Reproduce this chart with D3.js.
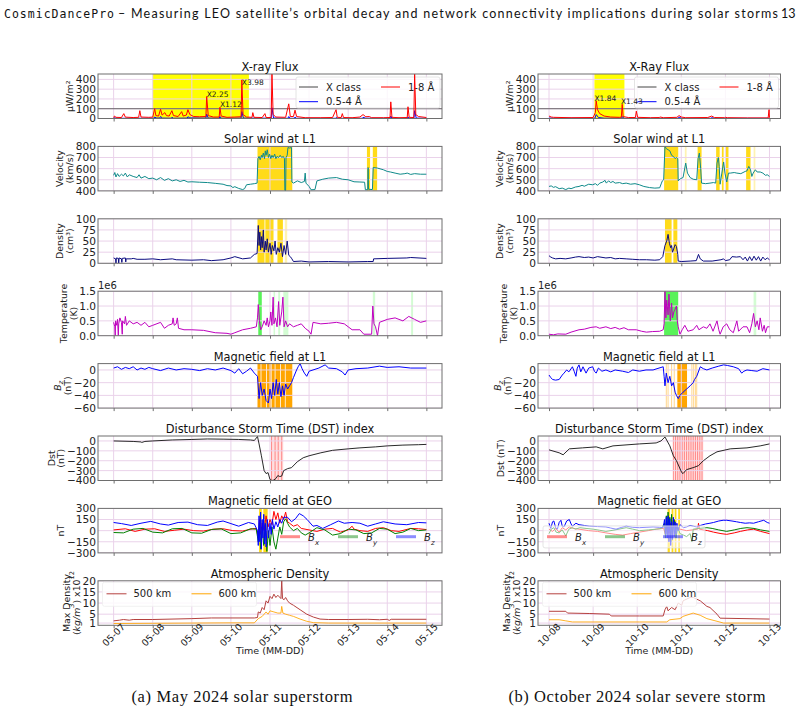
<!DOCTYPE html>
<html>
<head>
<meta charset="UTF-8">
<title>CosmicDancePro</title>
<style>
  body { margin: 0; background: #fff; }
</style>
</head>
<body>
<div id="chart"></div>
<script src="https://cdn.jsdelivr.net/npm/d3@7"></script>
<script>
// all times are days after the first tick (05-07 / 10-08, 00:00 UTC)

// ---------- May 2024 ----------
var mayTicks = [0, 1, 2, 3, 4, 5, 6, 7, 8];
var mayXrayLong = [[0,8],[0.02,25],[0.06,12],[0.2,10],[0.26,50],[0.3,14],[0.5,10],[0.64,12],[0.67,80],[0.7,15],[0.9,12],[1.0,14],[1.05,100],[1.08,30],[1.15,25],[1.2,95],[1.24,35],[1.31,60],[1.35,30],[1.42,25],[1.49,80],[1.53,30],[1.65,20],[1.74,70],[1.78,25],[1.86,35],[1.9,90],[1.95,40],[2.05,20],[2.2,18],[2.36,20],[2.38,225],[2.42,30],[2.55,15],[2.7,15],[2.72,115],[2.75,25],[2.9,12],[3.1,15],[3.26,18],[3.28,395],[3.31,40],[3.4,15],[3.54,12],[3.56,60],[3.59,12],[3.8,10],[3.87,50],[3.9,10],[4.03,10],[4.05,460],[4.08,40],[4.15,15],[4.4,12],[4.48,150],[4.52,20],[4.6,20],[4.64,85],[4.68,20],[4.9,8],[5.3,8],[5.6,10],[5.69,90],[5.72,12],[5.82,10],[5.85,50],[5.88,10],[6.1,8],[6.3,15],[6.38,40],[6.45,18],[6.54,20],[6.6,8],[6.9,8],[7.07,10],[7.09,170],[7.12,12],[7.3,8],[7.51,10],[7.53,120],[7.56,12],[7.68,10],[7.7,460],[7.73,40],[7.8,20],[8.0,10]];
var mayXrayShort = [[0,2],[0.02,8],[0.06,2],[1.03,3],[1.05,15],[1.1,5],[1.18,4],[1.2,20],[1.25,4],[1.47,3],[1.49,12],[1.53,3],[1.88,4],[1.9,18],[1.95,6],[2.36,4],[2.38,45],[2.42,4],[2.7,3],[2.72,20],[2.75,3],[3.26,4],[3.28,70],[3.32,4],[4.03,3],[4.05,110],[4.09,5],[4.46,2],[4.48,20],[4.52,2],[4.62,2],[4.64,15],[4.68,2],[5.67,2],[5.69,10],[5.72,2],[6.36,2],[6.38,12],[6.45,3],[7.07,2],[7.09,25],[7.12,2],[7.51,2],[7.53,15],[7.56,2],[7.68,3],[7.7,80],[7.74,4],[8.0,2]];
var mayFlares = [[2.38,222,"X2.25"],[2.72,113,"X1.12"],[3.28,340,"X3.98"]];
var mayXraySpan = [[1.0,3.46]];

var mayVelocity = [[0,540],[0.03,565],[0.06,525],[0.1,555],[0.14,530],[0.2,550],[0.25,535],[0.3,560],[0.35,525],[0.4,545],[0.5,530],[0.6,520],[0.65,545],[0.7,515],[0.8,530],[0.9,510],[1.0,515],[1.1,500],[1.2,520],[1.3,495],[1.4,510],[1.5,490],[1.6,500],[1.7,485],[1.8,495],[1.9,480],[2.0,482],[2.2,478],[2.4,475],[2.6,468],[2.8,460],[2.9,448],[3.0,445],[3.05,430],[3.1,438],[3.2,422],[3.3,412],[3.35,420],[3.4,455],[3.5,460],[3.6,465],[3.67,470],[3.69,690],[3.72,710],[3.75,680],[3.78,720],[3.8,700],[3.83,740],[3.86,690],[3.88,760],[3.9,720],[3.93,770],[3.96,700],[3.99,730],[4.02,690],[4.05,720],[4.08,700],[4.12,730],[4.15,690],[4.18,710],[4.22,700],[4.26,720],[4.3,700],[4.34,710],[4.37,690],[4.38,405],[4.4,405],[4.41,700],[4.44,720],[4.46,790],[4.5,785],[4.55,790],[4.56,480],[4.6,470],[4.7,490],[4.8,475],[4.88,485],[4.9,560],[4.92,470],[5.0,440],[5.05,410],[5.15,412],[5.2,490],[5.35,505],[5.5,515],[5.7,520],[5.85,505],[6.0,500],[6.15,482],[6.3,480],[6.42,478],[6.44,410],[6.5,412],[6.51,610],[6.52,415],[6.62,412],[6.64,610],[6.75,605],[6.9,590],[7.0,575],[7.08,570],[7.2,560],[7.33,550],[7.45,555],[7.51,560],[7.6,548],[7.7,555],[7.85,550],[8.0,550]];
var mayWindSpans = [[3.68,4.57],[6.48,6.56],[6.63,6.74]];

var mayDensity = [[0,12],[0.05,10],[0.06,0],[0.07,12],[0.12,11],[0.13,0],[0.14,12],[0.2,10],[0.21,2],[0.22,11],[0.3,12],[0.31,3],[0.32,10],[0.45,10],[0.5,11],[0.6,9],[0.8,9],[1.0,10],[1.2,8],[1.5,10],[1.6,8],[2.0,7],[2.3,8],[2.5,6],[2.8,8],[3.0,12],[3.1,15],[3.3,10],[3.5,12],[3.6,20],[3.67,22],[3.7,85],[3.72,40],[3.74,70],[3.76,30],[3.78,60],[3.8,35],[3.83,75],[3.85,25],[3.88,50],[3.9,30],[3.93,55],[3.96,25],[4.0,45],[4.03,20],[4.06,40],[4.1,28],[4.13,50],[4.16,20],[4.2,35],[4.24,25],[4.28,45],[4.32,15],[4.36,40],[4.4,20],[4.44,50],[4.48,18],[4.52,15],[4.56,10],[4.6,4],[4.8,5],[5.0,3],[5.5,4],[6.0,3],[6.5,4],[6.64,4],[6.65,10],[7.0,11],[7.5,12],[7.6,13],[8.0,11]];
var mayDensSpans = [[3.68,3.86],[3.88,4.09],[4.19,4.33]];
var mayDensSpansFaint = [[4.38,4.44]];

var mayTemp = [[0,0.45],[0.03,0.3],[0.04,0.0],[0.05,0.5],[0.08,0.35],[0.1,0.55],[0.12,0.0],[0.13,0.4],[0.16,0.6],[0.2,0.45],[0.22,0.05],[0.23,0.5],[0.28,0.4],[0.3,0.65],[0.33,0.35],[0.4,0.5],[0.5,0.4],[0.6,0.45],[0.7,0.35],[0.8,0.45],[0.9,0.3],[1.0,0.35],[1.2,0.45],[1.3,0.25],[1.4,0.35],[1.5,0.4],[1.52,0.6],[1.55,0.35],[1.6,0.4],[1.63,0.6],[1.66,0.25],[1.8,0.2],[2.0,0.2],[2.3,0.18],[2.6,0.1],[2.9,0.08],[3.0,0.05],[3.1,0.1],[3.3,0.2],[3.5,0.25],[3.65,0.3],[3.68,0.6],[3.7,1.05],[3.73,0.5],[3.76,0.2],[3.8,0.3],[3.85,0.5],[3.9,0.35],[3.93,0.6],[3.96,0.3],[4.0,0.5],[4.02,0.8],[4.05,0.35],[4.08,1.3],[4.1,0.4],[4.14,0.6],[4.18,0.3],[4.22,1.15],[4.25,0.35],[4.3,0.8],[4.33,1.3],[4.36,0.3],[4.4,0.5],[4.45,0.3],[4.5,0.4],[4.6,0.3],[4.7,0.35],[4.8,0.4],[4.9,0.25],[5.0,0.15],[5.05,0.05],[5.1,0.45],[5.3,0.4],[5.5,0.42],[5.7,0.45],[5.9,0.4],[6.0,0.3],[6.1,0.2],[6.3,0.2],[6.4,0.05],[6.6,0.05],[6.63,1.0],[6.66,0.4],[6.7,0.3],[6.75,0.0],[6.8,0.45],[7.0,0.55],[7.2,0.6],[7.4,0.5],[7.55,0.65],[7.7,0.55],[7.85,0.45],[8.0,0.5]];
var mayTempSpans = [[3.7,3.79]];
var mayTempSpansFaint = [[4.09,4.13],[4.21,4.26],[4.34,4.47],[6.63,6.69],[7.61,7.66]];

var mayBz = [[0,3],[0.1,5],[0.2,1],[0.3,4],[0.4,2],[0.5,5],[0.6,0],[0.7,3],[0.8,1],[0.9,4],[1.0,2],[1.2,-1],[1.4,3],[1.6,0],[1.8,2],[2.0,1],[2.2,-1],[2.4,2],[2.6,0],[2.8,3],[3.0,-1],[3.1,-5],[3.2,2],[3.3,-6],[3.4,-2],[3.5,3],[3.6,-5],[3.68,-10],[3.72,-45],[3.76,-20],[3.8,-40],[3.85,-30],[3.9,-48],[3.96,-52],[4.0,-30],[4.04,-45],[4.08,-20],[4.12,-40],[4.16,-15],[4.2,-38],[4.24,-20],[4.28,-42],[4.32,-25],[4.36,-40],[4.4,-22],[4.45,-30],[4.5,-25],[4.55,-20],[4.6,-12],[4.68,0],[4.72,5],[4.77,10],[4.82,2],[4.88,-5],[4.94,-10],[5.0,-2],[5.1,0],[5.25,3],[5.41,8],[5.5,3],[5.7,2],[5.85,-3],[5.92,-8],[6.0,0],[6.2,2],[6.5,3],[6.8,6],[7.0,4],[7.3,5],[7.6,3],[8.0,3]];
var mayBzSpans = [[3.68,3.76],[3.78,3.9],[3.92,4.02],[4.04,4.12],[4.14,4.26],[4.28,4.38],[4.4,4.57]];

var mayDst = [[0,0],[0.5,-5],[0.7,-10],[0.72,-15],[0.8,-5],[1.0,0],[1.5,10],[2.0,15],[2.4,20],[2.8,18],[3.2,15],[3.5,10],[3.6,5],[3.68,45],[3.72,-30],[3.78,-150],[3.85,-300],[3.9,-330],[3.95,-320],[4.0,-390],[4.05,-400],[4.1,-395],[4.15,-380],[4.2,-350],[4.25,-360],[4.3,-355],[4.35,-300],[4.45,-280],[4.55,-270],[4.7,-210],[4.85,-170],[5.0,-150],[5.3,-120],[5.6,-95],[6.0,-80],[6.3,-70],[6.7,-60],[7.0,-50],[7.4,-42],[7.8,-38],[8.0,-35]];
var mayDstBand = [[4.03,4.34]];
var mayDstEvents = [4.04, 4.13, 4.21, 4.3];

var mayGeoBx = [[0,10],[0.3,25],[0.55,-10],[0.8,20],[1.05,25],[1.3,-10],[1.55,5],[1.8,20],[2.05,0],[2.3,-5],[2.55,20],[2.8,25],[3.05,0],[3.3,-5],[3.55,25],[3.65,30],[3.7,-100],[3.73,150],[3.76,-50],[3.8,100],[3.85,0],[3.9,200],[3.95,50],[4.0,150],[4.05,80],[4.1,260],[4.15,150],[4.2,240],[4.25,100],[4.3,200],[4.35,150],[4.4,250],[4.45,120],[4.5,100],[4.6,60],[4.7,80],[4.8,30],[5.0,10],[5.2,-10],[5.4,20],[5.6,30],[5.8,-20],[6.0,10],[6.1,60],[6.15,20],[6.3,0],[6.5,-10],[6.7,30],[6.9,40],[7.1,0],[7.3,-10],[7.6,30],[7.8,25],[8.0,15]];
var mayGeoBy = [[0,-25],[0.25,-30],[0.5,20],[0.75,30],[1.0,-20],[1.25,-30],[1.5,25],[1.75,30],[2.0,-30],[2.25,-35],[2.5,15],[2.75,25],[3.0,-40],[3.25,-30],[3.5,25],[3.65,20],[3.7,-150],[3.73,100],[3.76,-250],[3.8,50],[3.84,-200],[3.88,80],[3.92,-280],[3.96,0],[4.0,-200],[4.05,50],[4.1,-150],[4.15,-250],[4.2,-100],[4.25,50],[4.3,-50],[4.35,120],[4.4,160],[4.45,100],[4.5,50],[4.6,0],[4.7,30],[4.8,-30],[4.9,-60],[5.0,-30],[5.2,40],[5.4,10],[5.6,-60],[5.8,-40],[6.0,20],[6.2,10],[6.4,-40],[6.6,-30],[6.8,30],[7.0,20],[7.2,-40],[7.4,-20],[7.6,30],[7.8,0],[8.0,10]];
var mayGeoBz = [[0,110],[0.2,95],[0.45,70],[0.7,100],[0.95,125],[1.2,90],[1.4,75],[1.65,110],[1.9,115],[2.15,80],[2.4,70],[2.65,115],[2.8,130],[3.0,95],[3.2,60],[3.45,110],[3.6,90],[3.68,0],[3.7,-200],[3.72,200],[3.74,-150],[3.76,250],[3.78,-250],[3.8,150],[3.82,-100],[3.84,220],[3.86,-180],[3.88,100],[3.9,-220],[3.93,150],[3.96,-100],[4.0,100],[4.03,-50],[4.06,150],[4.1,20],[4.15,120],[4.2,50],[4.25,150],[4.3,100],[4.35,180],[4.45,180],[4.55,120],[4.65,160],[4.75,230],[4.85,200],[4.95,150],[5.1,60],[5.2,70],[5.35,30],[5.55,80],[5.75,130],[5.9,100],[6.1,110],[6.3,100],[6.5,60],[6.7,90],[6.9,120],[7.2,90],[7.5,80],[7.8,110],[8.0,105]];
var mayGeoSpans = [[3.72,3.79],[3.83,3.94]];

var mayAtm500 = [[0,2.0],[0.15,2.3],[0.25,2.6],[0.4,2.3],[0.5,2.6],[1.0,2.6],[2.0,3.0],[2.5,3.3],[3.0,3.3],[3.6,3.3],[3.68,3.5],[3.7,6],[3.75,5.5],[3.8,8],[3.85,7],[3.9,11],[3.95,10],[4.0,13],[4.05,12],[4.1,14],[4.15,12.5],[4.2,13.5],[4.28,12],[4.3,20],[4.32,12],[4.36,11.5],[4.4,12.5],[4.45,11],[4.5,10],[4.6,9],[4.77,7],[4.94,5],[5.11,3.7],[5.28,2.8],[5.5,2.6],[6.0,2.6],[6.5,2.7],[6.8,2.5],[7.0,2.7],[7.05,2.2],[7.1,2.7],[8.0,2.7]];
var mayAtm600 = [[0,0.8],[1.0,0.9],[2.0,1.0],[3.0,1.1],[3.6,1.1],[3.7,3],[3.8,4],[3.9,6],[3.95,5],[4.0,6.5],[4.1,6],[4.2,5.5],[4.28,5.5],[4.3,8.5],[4.33,5.5],[4.4,5],[4.5,4.5],[4.6,4],[4.77,2.8],[4.94,1.8],[5.11,1.2],[5.5,1.0],[8.0,1.0]];

// ---------- October 2024 ----------
var octTicks = [0, 1, 2, 3, 4, 5];
var octXrayLong = [[0,25],[0.05,15],[0.1,12],[0.5,8],[1.0,10],[1.05,60],[1.07,180],[1.1,90],[1.15,50],[1.25,25],[1.4,15],[1.6,12],[1.64,14],[1.66,145],[1.68,20],[1.8,10],[1.96,10],[1.98,75],[2.01,12],[2.3,8],[2.5,10],[2.52,15],[2.6,8],[2.9,12],[2.95,30],[3.0,15],[3.1,8],[3.6,10],[3.69,25],[3.75,10],[3.98,8],[4.0,12],[4.05,8],[4.5,6],[4.97,6],[4.99,90],[5.0,8]];
var octXrayShort = [[0,5],[0.1,3],[1.04,3],[1.07,40],[1.12,10],[1.25,3],[1.65,3],[1.66,20],[1.7,2],[2.93,2],[2.95,15],[3.0,2],[3.67,2],[3.69,8],[3.75,2],[5.0,2]];
var octFlares = [[1.03,180,"X1.84"],[1.63,145,"X1.43"]];
var octXraySpan = [[1.03,1.71]];

var octVelocity = [[0,440],[0.05,445],[0.1,432],[0.15,438],[0.23,420],[0.3,425],[0.38,412],[0.45,425],[0.5,420],[0.6,435],[0.68,440],[0.75,450],[0.8,442],[0.9,460],[0.99,455],[1.05,465],[1.1,450],[1.15,470],[1.22,480],[1.27,495],[1.3,470],[1.35,490],[1.4,475],[1.45,485],[1.5,470],[1.6,475],[1.67,465],[1.75,470],[1.85,460],[1.95,465],[2.05,455],[2.15,440],[2.28,430],[2.4,425],[2.51,428],[2.55,470],[2.57,490],[2.6,500],[2.63,800],[2.66,780],[2.7,770],[2.74,760],[2.78,720],[2.82,710],[2.86,690],[2.89,700],[2.92,690],[2.93,490],[2.98,510],[3.04,520],[3.1,650],[3.14,560],[3.2,520],[3.27,505],[3.35,500],[3.38,690],[3.41,740],[3.44,600],[3.46,470],[3.55,465],[3.65,470],[3.73,475],[3.78,470],[3.81,650],[3.84,700],[3.86,620],[3.88,460],[3.92,560],[3.96,660],[3.99,560],[4.03,480],[4.07,560],[4.11,560],[4.2,565],[4.26,560],[4.35,555],[4.45,575],[4.49,580],[4.53,620],[4.57,590],[4.6,530],[4.63,560],[4.68,590],[4.72,570],[4.79,570],[4.85,560],[4.91,540],[4.95,545],[5.0,530]];
var octWindSpans = [[2.61,2.93],[3.37,3.46],[3.79,3.87],[3.92,3.96],[4.01,4.07],[4.47,4.57]];
var octWindSpansFaint = [[3.08,3.12],[4.64,4.68]];

var octDensity = [[0,17],[0.04,14],[0.08,12],[0.15,10],[0.25,11],[0.38,10],[0.5,12],[0.6,14],[0.68,15],[0.8,13],[0.9,14],[1.0,12],[1.1,15],[1.29,12],[1.4,13],[1.5,10],[1.6,11],[1.75,10],[1.9,9],[2.05,8],[2.21,8],[2.4,7],[2.51,8],[2.58,15],[2.63,40],[2.67,50],[2.7,65],[2.73,45],[2.76,35],[2.78,40],[2.8,25],[2.82,30],[2.86,42],[2.89,38],[2.92,20],[2.93,5],[3.0,4],[3.2,5],[3.34,6],[3.39,20],[3.43,10],[3.5,5],[3.7,5],[3.9,8],[3.96,10],[4.0,6],[4.1,8],[4.15,15],[4.25,14],[4.34,15],[4.4,8],[4.45,14],[4.5,5],[4.55,15],[4.6,6],[4.65,16],[4.7,7],[4.75,15],[4.8,5],[4.85,14],[4.9,8],[4.95,12],[5.0,8]];
var octDensSpans = [[2.63,2.78],[2.82,2.91]];

var octTemp = [[0,0.05],[0.1,0.03],[0.2,0.06],[0.38,0.05],[0.5,0.12],[0.68,0.2],[0.8,0.22],[0.95,0.28],[1.07,0.3],[1.15,0.25],[1.29,0.3],[1.4,0.24],[1.5,0.28],[1.6,0.22],[1.7,0.27],[1.8,0.2],[1.98,0.2],[2.1,0.15],[2.21,0.12],[2.35,0.14],[2.51,0.15],[2.59,0.2],[2.61,0.4],[2.63,1.5],[2.65,0.6],[2.67,1.2],[2.7,0.7],[2.72,1.4],[2.75,0.5],[2.78,1.1],[2.8,0.6],[2.83,0.8],[2.86,0.9],[2.89,1.0],[2.91,0.5],[2.93,0.3],[2.97,0.05],[3.02,0.2],[3.08,0.35],[3.15,0.15],[3.27,0.2],[3.35,0.35],[3.4,0.2],[3.5,0.3],[3.58,0.25],[3.65,0.4],[3.72,0.15],[3.81,0.5],[3.85,0.2],[3.88,0.05],[3.95,0.3],[4.03,0.4],[4.1,0.2],[4.18,0.1],[4.22,0.3],[4.26,0.5],[4.3,0.15],[4.4,0.3],[4.49,0.3],[4.55,0.1],[4.6,0.4],[4.64,0.75],[4.68,0.3],[4.72,0.5],[4.76,0.2],[4.79,0.6],[4.84,0.15],[4.88,0.35],[4.91,0.1],[4.95,0.3],[5.0,0.3]];
var octTempSpans = [[2.61,2.93]];
var octTempSpansFaint = [[4.64,4.7]];

var octBz = [[0,-8],[0.04,-12],[0.08,-15],[0.15,-16],[0.23,-15],[0.3,-8],[0.34,-5],[0.4,0],[0.45,-3],[0.53,5],[0.57,-2],[0.61,-10],[0.64,3],[0.68,8],[0.72,-3],[0.77,5],[0.84,-5],[0.9,3],[0.99,5],[1.03,-2],[1.07,-5],[1.12,3],[1.2,-2],[1.29,0],[1.4,-3],[1.5,0],[1.67,-2],[1.8,-4],[1.9,0],[2.05,-2],[2.2,0],[2.36,0],[2.45,2],[2.59,5],[2.61,-10],[2.63,-25],[2.66,-5],[2.7,-20],[2.74,-10],[2.78,-25],[2.82,-20],[2.86,-35],[2.89,-40],[2.93,-45],[2.97,-40],[3.04,-35],[3.12,-30],[3.2,-25],[3.27,-20],[3.3,-15],[3.35,-10],[3.43,5],[3.5,2],[3.58,0],[3.7,3],[3.85,6],[3.96,8],[4.05,7],[4.18,5],[4.3,2],[4.37,-5],[4.42,-2],[4.49,0],[4.6,-1],[4.72,-2],[4.85,2],[5.0,0]];
var octBzSpans = [[2.91,3.13]];
var octBzEvents = [2.66, 2.7, 2.78, 2.84, 3.24, 3.28, 3.32, 3.35];

var octDst = [[0,-90],[0.23,-120],[0.32,-140],[0.46,-80],[0.76,-70],[1.07,-60],[1.22,-80],[1.45,-50],[2.05,-30],[2.43,-20],[2.54,0],[2.63,40],[2.74,-50],[2.82,-150],[2.89,-200],[3.01,-320],[3.04,-330],[3.12,-290],[3.27,-270],[3.39,-250],[3.5,-200],[3.65,-150],[3.81,-110],[4.11,-80],[4.49,-70],[4.79,-50],[5.0,-30]];
var octDstBand = [[2.82,3.5]];
var octDstEvents = [2.82, 2.87, 2.92, 2.97, 3.02, 3.07, 3.12, 3.17, 3.22, 3.27, 3.32, 3.37, 3.42, 3.47];

var octGeoBx = [[0,20],[0.08,-10],[0.15,30],[0.23,-20],[0.3,40],[0.38,10],[0.46,50],[0.55,30],[0.68,20],[0.9,0],[1.1,-10],[1.29,-30],[1.5,-50],[1.67,-60],[1.85,-40],[2.05,-20],[2.25,0],[2.43,20],[2.6,30],[2.64,-50],[2.68,80],[2.72,-30],[2.76,100],[2.8,40],[2.85,60],[2.9,30],[2.97,20],[3.12,0],[3.25,10],[3.37,20],[3.39,100],[3.41,20],[3.5,10],[3.6,0],[3.73,-20],[3.9,-40],[4.03,-50],[4.2,-30],[4.34,-10],[4.5,10],[4.64,20],[4.8,-10],[5.0,-40]];
var octGeoBy = [[0,-40],[0.05,20],[0.11,40],[0.16,-20],[0.23,-30],[0.3,10],[0.38,-70],[0.45,20],[0.53,40],[0.6,20],[0.7,40],[0.84,30],[1.0,20],[1.15,5],[1.29,-10],[1.5,10],[1.75,40],[1.9,20],[2.05,0],[2.25,10],[2.43,20],[2.55,30],[2.62,100],[2.64,-100],[2.66,200],[2.68,-50],[2.7,250],[2.72,0],[2.74,180],[2.76,-150],[2.78,220],[2.8,-50],[2.84,150],[2.88,-100],[2.92,50],[2.97,-40],[3.05,-60],[3.12,-80],[3.2,-40],[3.24,-150],[3.27,20],[3.4,30],[3.58,40],[3.7,30],[3.85,10],[4.03,-10],[4.2,10],[4.35,30],[4.49,40],[4.65,30],[4.8,10],[5.0,-10]];
var octGeoBz = [[0,100],[0.04,30],[0.08,120],[0.11,130],[0.15,40],[0.19,20],[0.23,110],[0.27,140],[0.3,60],[0.34,50],[0.4,130],[0.46,150],[0.5,90],[0.53,60],[0.61,100],[0.68,80],[0.8,70],[0.91,60],[1.1,55],[1.29,50],[1.4,35],[1.52,20],[1.65,45],[1.75,60],[1.9,45],[2.05,40],[2.2,45],[2.36,50],[2.5,45],[2.59,40],[2.62,150],[2.64,-50],[2.66,180],[2.68,-100],[2.7,200],[2.72,-150],[2.74,160],[2.76,-200],[2.78,120],[2.8,-120],[2.82,180],[2.84,-80],[2.86,120],[2.88,-50],[2.9,100],[2.93,0],[2.97,80],[3.05,40],[3.12,50],[3.2,70],[3.27,60],[3.35,50],[3.43,70],[3.55,90],[3.65,100],[3.73,110],[3.85,130],[3.95,140],[4.03,140],[4.15,130],[4.25,120],[4.34,110],[4.45,100],[4.55,105],[4.64,100],[4.75,120],[4.87,140],[4.95,110],[5.0,100]];
var octGeoSpans = [[2.69,2.74],[2.78,2.82],[2.85,2.89],[2.93,2.97]];

var octAtm500 = [[0,6.3],[0.38,6.3],[0.42,5.5],[0.91,5.3],[1.37,5.0],[1.41,4.2],[2.05,4.2],[2.59,4.2],[2.63,7],[2.67,8.5],[2.7,6.5],[2.78,8],[2.86,7],[2.93,10],[3.01,9],[3.04,11],[3.2,12.5],[3.27,12.5],[3.43,11],[3.58,8.5],[3.65,8],[3.81,5],[3.88,3.2],[5.0,2.8]];
var octAtm600 = [[0,2.5],[0.23,2.5],[0.38,2.0],[0.53,1.5],[2.05,1.5],[2.67,1.5],[2.74,2.5],[2.97,3],[3.04,4],[3.27,5.5],[3.43,4.5],[3.58,3],[3.81,1.8],[3.96,1.0],[5.0,1.0]];

// ---------- page ----------
var width = 801, height = 714;
var FONT = "DejaVu Sans";
var GRID = "#ead2ea", FRAME = "#6e6e6e";
var H = 44.5;

var svg = d3.select("#chart").append("svg")
	.attr("width", width).attr("height", height)
	.attr("font-family", FONT);

// header
svg.append("text").attr("x", 4).attr("y", 18)
	.attr("font-family", "DejaVu Sans Mono").attr("font-size", 11.5)
	.attr("textLength", 110).attr("fill", "#111")
	.text("CosmicDancePro");
svg.append("text").attr("x", 118).attr("y", 18)
	.attr("font-family", "Lato").attr("font-size", 12.5)
	.attr("textLength", 660).attr("fill", "#111")
	.text("\u2013 Measuring LEO satellite\u2019s orbital decay and network connectivity implications during solar storms");
svg.append("text").attr("x", 781).attr("y", 18)
	.attr("font-family", "Lato").attr("font-size", 12.5).attr("fill", "#111")
	.text("13");

function segs(sel, list) {
	list.forEach(function(s) {
		var t = sel.append("tspan").text(s.t);
		if (s.it) t.attr("font-style", "italic");
		if (s.sub) t.attr("baseline-shift", "sub").attr("font-size", "70%");
		if (s.sup) t.attr("baseline-shift", "super").attr("font-size", "70%");
	});
}
function B(c) { return [{t: "B", it: true}, {t: c, it: true, sub: true}]; }

var columns = [{
	x0: 98, x1: 442, ticks: mayTicks, start: Date.UTC(2024, 4, 7), pad: 0.4,
	caption: "(a) May 2024 solar superstorm", capX: 242, capW: 221,
	xrayTitle: "X-ray Flux", dstLabel: [[{t: "Dst"}], [{t: "(nT)"}]],
	xrayLong: mayXrayLong, xrayShort: mayXrayShort, flares: mayFlares, xraySpan: mayXraySpan,
	velocity: mayVelocity, windSpans: mayWindSpans, windFaint: [],
	density: mayDensity, densSpans: mayDensSpans, densFaint: mayDensSpansFaint,
	temp: mayTemp, tempSpans: mayTempSpans, tempFaint: mayTempSpansFaint,
	bz: mayBz, bzSpans: mayBzSpans, bzEvents: [],
	dst: mayDst, dstBand: mayDstBand, dstEvents: mayDstEvents,
	geo: [mayGeoBx, mayGeoBy, mayGeoBz], geoSpans: mayGeoSpans, geoLegX: 280, geoBox: false,
	atm500: mayAtm500, atm600: mayAtm600
}, {
	x0: 538, x1: 780.5, ticks: octTicks, start: Date.UTC(2024, 9, 8), pad: 0.25,
	caption: "(b) October 2024 solar severe storm", capX: 637, capW: 257,
	xrayTitle: "X-Ray Flux", dstLabel: [[{t: "Dst (nT)"}]],
	xrayLong: octXrayLong, xrayShort: octXrayShort, flares: octFlares, xraySpan: octXraySpan,
	velocity: octVelocity, windSpans: octWindSpans, windFaint: octWindSpansFaint,
	density: octDensity, densSpans: octDensSpans, densFaint: [],
	temp: octTemp, tempSpans: octTempSpans, tempFaint: octTempSpansFaint,
	bz: octBz, bzSpans: octBzSpans, bzEvents: octBzEvents,
	dst: octDst, dstBand: octDstBand, dstEvents: octDstEvents,
	geo: [octGeoBx, octGeoBy, octGeoBz], geoSpans: octGeoSpans, geoLegX: 547, geoBox: true,
	atm500: octAtm500, atm600: octAtm600
}];

function panelsFor(c) {
	var one = function(s) { return [[{t: s}]]; };
	return [
		{ title: c.xrayTitle, label: one("\u00b5W/m\u00b2"), domain: [0, 455], ticks: [0, 100, 200, 300, 400],
		  spans: [{data: c.xraySpan, color: "#ffff00", op: 1}], hline: 100,
		  lines: [{data: c.xrayShort, color: "blue"}, {data: c.xrayLong, color: "red"}], flares: c.flares, legend: "xray" },
		{ title: "Solar wind at L1", label: [[{t: "Velocity"}], [{t: "(km/s)"}]], domain: [400, 800], ticks: [400, 500, 600, 700, 800],
		  spans: [{data: c.windSpans, color: "#ffd700", op: 0.9}, {data: c.windFaint, color: "#ffd700", op: 0.3}],
		  lines: [{data: c.velocity, color: "#0f8a8a"}] },
		{ label: [[{t: "Density"}], [{t: "(cm\u00b3)"}]], domain: [0, 100], ticks: [0, 25, 50, 75, 100],
		  spans: [{data: c.densSpans, color: "#ffd700", op: 0.9}, {data: c.densFaint, color: "#ffd700", op: 0.3}],
		  lines: [{data: c.density, color: "#0b0b80"}] },
		{ label: [[{t: "Temperature"}], [{t: "(K)"}]], domain: [0, 1.5], ticks: [0, 0.5, 1.0, 1.5], fmt: d3.format(".1f"), offset: "1e6",
		  spans: [{data: c.tempSpans, color: "#22ee22", op: 0.75}, {data: c.tempFaint, color: "#22ee22", op: 0.2}],
		  lines: [{data: c.temp, color: "#bf00bf"}] },
		{ title: "Magnetic field at L1", label: [B("z"), [{t: "(nT)"}]], domain: [-60, 10], ticks: [-60, -40, -20, 0],
		  spans: [{data: c.bzSpans, color: "orange", op: 1}], events: {data: c.bzEvents, color: "orange", op: 0.5},
		  lines: [{data: c.bz, color: "blue"}] },
		{ title: "Disturbance Storm Time (DST) index", label: c.dstLabel, domain: [-400, 50], ticks: [-400, -300, -200, -100, 0],
		  spans: [{data: c.dstBand, color: "red", op: 0.12}], events: {data: c.dstEvents, color: "red", op: 0.45},
		  lines: [{data: c.dst, color: "#111", w: 0.9}] },
		{ title: "Magnetic field at GEO", label: one("nT"), domain: [-300, 300], ticks: [-300, -150, 0, 150, 300],
		  spans: [{data: c.geoSpans, color: "#ffd700", op: 0.9}],
		  lines: [{data: c.geo[0], color: "red"}, {data: c.geo[1], color: "green"}, {data: c.geo[2], color: "blue"}], legend: "geo" },
		{ title: "Atmospheric Density", label: [[{t: "Max Density"}], [{t: "("}, {t: "kg/m", it: true}, {t: "3", it: true, sup: true}, {t: ") x10"}, {t: "12", sup: true}]],
		  domain: [0, 20], ticks: [1, 5, 10, 15, 20],
		  lines: [{data: c.atm500, color: "#b5403f"}, {data: c.atm600, color: "orange", op: 0.85}], legend: "atm", bottom: true }
	];
}

var clipN = 0;
columns.forEach(function(col) {
	var x = d3.scaleLinear()
		.domain([col.ticks[0] - col.pad, col.ticks[col.ticks.length - 1] + col.pad])
		.range([col.x0, col.x1]);
	var fmtDay = function(d) { return d3.utcFormat("%m-%d")(new Date(col.start + d * 864e5)); };
	var w = col.x1 - col.x0;

	panelsFor(col).forEach(function(p, i) {
		var top = 74 + i * 72.4, bot = top + H;
		var y = d3.scaleLinear().domain(p.domain).range([bot, top]);
		var g = svg.append("g");
		var cid = "clip" + (clipN++);
		g.append("clipPath").attr("id", cid).append("rect")
			.attr("x", col.x0).attr("y", top).attr("width", w).attr("height", H);
		var inner = g.append("g").attr("clip-path", "url(#" + cid + ")");

		(p.spans || []).forEach(function(s) {
			inner.append("g").selectAll("rect").data(s.data).join("rect")
				.attr("x", function(d) { return x(d[0]); })
				.attr("width", function(d) { return Math.max(0.8, x(d[1]) - x(d[0])); })
				.attr("y", top).attr("height", H)
				.attr("fill", s.color).attr("opacity", s.op);
		});
		if (p.events) {
			inner.append("g").selectAll("line").data(p.events.data).join("line")
				.attr("x1", x).attr("x2", x).attr("y1", top).attr("y2", bot)
				.attr("stroke", p.events.color).attr("stroke-width", 0.9).attr("opacity", p.events.op);
		}

		// grid
		inner.append("g").selectAll("line").data(col.ticks).join("line")
			.attr("x1", x).attr("x2", x).attr("y1", top).attr("y2", bot)
			.attr("stroke", GRID).attr("stroke-width", 1);
		inner.append("g").selectAll("line").data(p.ticks).join("line")
			.attr("x1", col.x0).attr("x2", col.x1).attr("y1", y).attr("y2", y)
			.attr("stroke", GRID).attr("stroke-width", 1);

		if (p.hline != null) {
			inner.append("line").attr("x1", col.x0).attr("x2", col.x1)
				.attr("y1", y(p.hline)).attr("y2", y(p.hline))
				.attr("stroke", "#444").attr("stroke-width", 0.8);
		}

		// legends sit under the data lines, like the reference
		if (p.legend === "xray") {
			var lx = col.x1 - 146, ly = top + 3;
			inner.append("rect").attr("x", lx).attr("y", ly).attr("width", 144).attr("height", 31).attr("rx", 2)
				.attr("fill", "#fff").attr("fill-opacity", 0.8).attr("stroke", "#ddd").attr("stroke-width", 0.8);
			[["X class", "#444", 0, 10], ["0.5-4 \u00c5", "blue", 0, 24.7], ["1-8 \u00c5", "red", 82, 10]].forEach(function(e) {
				inner.append("line").attr("x1", lx + 3 + e[2]).attr("x2", lx + 22 + e[2])
					.attr("y1", ly + e[3]).attr("y2", ly + e[3]).attr("stroke", e[1]).attr("stroke-width", 1);
				inner.append("text").attr("x", lx + 30 + e[2]).attr("y", ly + e[3]).attr("dy", "0.35em")
					.attr("font-size", 10).attr("fill", "#222").text(e[0]);
			});
		}

		var line = d3.line().x(function(d) { return x(d[0]); }).y(function(d) { return y(d[1]); });
		p.lines.forEach(function(s) {
			inner.append("path").datum(s.data).attr("d", line)
				.attr("fill", "none").attr("stroke", s.color)
				.attr("stroke-width", s.w || 1).attr("stroke-opacity", s.op || 1)
				.attr("stroke-linejoin", "round");
		});

		(p.flares || []).forEach(function(f) {
			g.append("text").attr("x", x(f[0])).attr("y", y(f[1]))
				.attr("font-size", 7.5).attr("fill", "#222").text(f[2]);
		});

		g.append("rect").attr("x", col.x0).attr("y", top).attr("width", w).attr("height", H)
			.attr("fill", "none").attr("stroke", FRAME).attr("stroke-width", 1);

		// y axis
		var ya = g.append("g").attr("transform", "translate(" + col.x0 + ",0)")
			.call(d3.axisLeft(y).tickValues(p.ticks).tickSize(0).tickPadding(2).tickFormat(p.fmt || d3.format("d")));
		ya.attr("font-family", FONT).attr("font-size", 10.6);
		ya.select(".domain").remove();
		ya.selectAll("text").attr("fill", "#222");

		if (p.offset) {
			g.append("text").attr("x", col.x0).attr("y", top - 2.5)
				.attr("font-size", 10).attr("fill", "#222").text(p.offset);
		}

		// x ticks
		var xa = g.append("g").attr("transform", "translate(0," + bot + ")")
			.call(d3.axisBottom(x).tickValues(col.ticks).tickSize(3).tickFormat(""));
		xa.select(".domain").remove();
		xa.selectAll("line").attr("stroke", FRAME);

		if (p.title) {
			g.append("text").attr("x", (col.x0 + col.x1) / 2).attr("y", top - 3)
				.attr("text-anchor", "middle").attr("font-size", 11.4).attr("fill", "#111")
				.text(p.title);
		}

		// y label, placed left of the tick labels
		var bb = ya.node().getBBox();
		var n = p.label.length, lh = 9.8;
		var cx = col.x0 + bb.x - 6.5 - (n - 1) * lh / 2;
		var lab = g.append("text")
			.attr("transform", "translate(" + cx + "," + (top + bot) / 2 + ") rotate(-90)")
			.attr("text-anchor", "middle").attr("dominant-baseline", "central")
			.attr("font-size", 9.4).attr("fill", "#222");
		p.label.forEach(function(ln, k) {
			var t = lab.append("tspan").attr("x", 0).attr("dy", k === 0 ? -(n - 1) * lh / 2 : lh);
			segs(t, ln);
		});

		if (p.legend === "geo") {
			var gx = col.geoLegX, gy = top + 28.3;
			if (col.geoBox) {
				g.append("rect").attr("x", gx - 4).attr("y", top + 17.5).attr("width", 162).attr("height", 22).attr("rx", 2)
					.attr("fill", "#fff").attr("fill-opacity", 0.55).attr("stroke", "#ddd").attr("stroke-width", 0.8);
			}
			[["x", "red"], ["y", "green"], ["z", "blue"]].forEach(function(e, k) {
				var ex = gx + k * 58;
				g.append("line").attr("x1", ex).attr("x2", ex + 20).attr("y1", gy).attr("y2", gy)
					.attr("stroke", e[1]).attr("stroke-width", 3).attr("stroke-opacity", 0.45);
				var t = g.append("text").attr("x", ex + 28).attr("y", gy + 4)
					.attr("font-size", 10).attr("fill", "#222");
				segs(t, B(e[0]));
			});
		}
		if (p.legend === "atm") {
			var ax = col.x0 + 4.5, ay = top + 13;
			g.append("rect").attr("x", ax).attr("y", top + 1.5).attr("width", 154).attr("height", 24).attr("rx", 2)
				.attr("fill", "#fff").attr("fill-opacity", 0.8).attr("stroke", "#eee").attr("stroke-width", 0.8);
			[["500 km", "#b5403f", 0], ["600 km", "orange", 85]].forEach(function(e) {
				g.append("line").attr("x1", ax + 4 + e[2]).attr("x2", ax + 24 + e[2]).attr("y1", ay).attr("y2", ay)
					.attr("stroke", e[1]).attr("stroke-width", 1);
				g.append("text").attr("x", ax + 31 + e[2]).attr("y", ay).attr("dy", "0.35em")
					.attr("font-size", 10).attr("fill", "#222").text(e[0]);
			});
		}

		// day labels under the last panel
		if (p.bottom) {
			g.append("g").selectAll("text").data(col.ticks).join("text")
				.attr("transform", function(d) { return "translate(" + x(d) + "," + (bot + 9.5) + ") rotate(-45)"; })
				.attr("text-anchor", "middle").attr("dominant-baseline", "central")
				.attr("font-size", 9.5).attr("fill", "#222").text(fmtDay);
			g.append("text").attr("x", (col.x0 + col.x1) / 2).attr("y", 654)
				.attr("text-anchor", "middle").attr("font-size", 9.5).attr("fill", "#222")
				.text("Time (MM-DD)");
		}
	});

	svg.append("text").attr("x", col.capX).attr("y", 702)
		.attr("text-anchor", "middle").attr("font-family", "Liberation Serif")
		.attr("font-size", 16.5).attr("textLength", col.capW).attr("lengthAdjust", "spacing")
		.attr("fill", "#111").text(col.caption);
});
</script>
</body>
</html>
